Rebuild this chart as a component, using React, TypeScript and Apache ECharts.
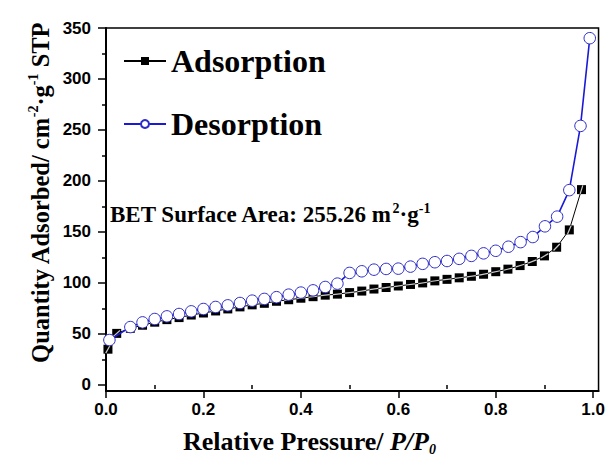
import React, { useEffect, useRef } from 'react';
import * as echarts from 'echarts';

// ---- data ----
const adsorptionX = [0.004, 0.022, 0.05, 0.075, 0.1, 0.125, 0.15, 0.175, 0.2, 0.225, 0.25, 0.275, 0.3, 0.325, 0.35, 0.375, 0.4, 0.425, 0.45, 0.475, 0.5, 0.525, 0.55, 0.575, 0.6, 0.625, 0.65, 0.675, 0.7, 0.725, 0.75, 0.775, 0.8, 0.825, 0.85, 0.875, 0.9, 0.925, 0.951, 0.976];
const adsorptionY = [35, 50.5, 55.5, 58.5, 61.5, 64, 66, 68.5, 70.5, 72.5, 74.5, 76.5, 78.5, 80, 82, 83.5, 85, 86.5, 88, 89, 90.5, 92, 94, 95.5, 97, 98.5, 100, 102, 103.5, 105, 106.5, 108.5, 111, 113.5, 117, 121, 126.5, 135, 152, 191.5];

const desorptionX = [0.993, 0.974, 0.951, 0.926, 0.901, 0.876, 0.851, 0.826, 0.8, 0.775, 0.75, 0.725, 0.7, 0.675, 0.65, 0.625, 0.6, 0.575, 0.55, 0.525, 0.5, 0.475, 0.45, 0.425, 0.4, 0.375, 0.35, 0.325, 0.3, 0.275, 0.25, 0.225, 0.2, 0.175, 0.15, 0.125, 0.1, 0.075, 0.05, 0.007];
const desorptionY = [340, 254, 191, 165, 155.5, 145, 140, 135.5, 131.5, 129, 126.5, 123.6, 121.5, 120.3, 118.7, 116, 114, 113.7, 113, 111.4, 109.8, 99.3, 96, 92.7, 90.5, 88.5, 86, 84.3, 82.6, 80.3, 78, 76.4, 74.4, 72.1, 69.5, 67.2, 64.6, 61.3, 56.7, 44];

const seriesNames = ['Adsorption', 'Desorption'];
const xTicks = [0, 0.2, 0.4, 0.6, 0.8, 1.0];
const xMinorTicks = [0.1, 0.3, 0.5, 0.7, 0.9];
const yTicks = [0, 50, 100, 150, 200, 250, 300, 350];
const yMinorTicks = [25, 75, 125, 175, 225, 275, 325];
const betLabel = 'BET Surface Area: 255.26 m';

const X_MIN = 0;
const X_MAX = 1.011;
const Y_MIN = -6;
const Y_MAX = 350;

const serif = 'Liberation Serif';
const sans = 'Liberation Sans';

export default function App() {
  const ref = useRef<HTMLDivElement>(null);

  useEffect(() => {
    if (!ref.current) return;
    const chart = echarts.init(ref.current, null, { renderer: 'svg' });

    const gridLeft = 106, gridRight = 9, gridTop = 28, gridBottom = 76;
    const kx = (608 - gridLeft - gridRight) / (X_MAX - X_MIN);
    const ky = (467 - gridTop - gridBottom) / (Y_MAX - Y_MIN);

    const adsData = adsorptionX.map((x, i) => [x, adsorptionY[i]]);
    const desData = desorptionX.map((x, i) => [x, desorptionY[i]]);
    const stripData = adsorptionX.map((x, i) => {
      const a = Math.max(0, i - 1);
      const b = Math.min(adsorptionX.length - 1, i + 1);
      const ang = Math.atan2((adsorptionY[b] - adsorptionY[a]) * ky, (adsorptionX[b] - adsorptionX[a]) * kx) * 180 / Math.PI;
      return { value: [x, adsorptionY[i]], symbolRotate: ang };
    });

    const tickLabel = { fontFamily: sans, fontWeight: 'bold', fontSize: 17, color: '#000' };

    const option: any = {
      animation: false,
      backgroundColor: '#ffffff',
      grid: {
        left: gridLeft, right: gridRight, top: gridTop, bottom: gridBottom,
        show: true, borderColor: '#000', borderWidth: 1.5, backgroundColor: 'transparent',
      },
      legend: {
        data: seriesNames,
        orient: 'vertical',
        left: 123,
        top: 45,
        padding: 0,
        itemWidth: 42,
        itemHeight: 10,
        itemGap: 31,
        selectedMode: false,
        textStyle: { fontFamily: serif, fontWeight: 'bold', fontSize: 32, color: '#000' },
      },
      xAxis: [
        {
          type: 'value', min: X_MIN, max: X_MAX, position: 'bottom',
          axisLine: { show: true, onZero: false, lineStyle: { color: '#000', width: 2 } },
          axisTick: { show: true, length: 7, customValues: xTicks, lineStyle: { color: '#000', width: 1.5 } },
          axisLabel: { ...tickLabel, customValues: xTicks, margin: 10, formatter: (v: number) => v.toFixed(1) },
          splitLine: { show: false },
        },
        {
          type: 'value', min: X_MIN, max: X_MAX, position: 'bottom',
          axisLine: { show: false },
          axisTick: { show: true, length: 4, customValues: xMinorTicks, lineStyle: { color: '#000', width: 1.5 } },
          axisLabel: { show: false },
          splitLine: { show: false },
        },
      ],
      yAxis: [
        {
          type: 'value', min: Y_MIN, max: Y_MAX, position: 'left',
          axisLine: { show: true, onZero: false, lineStyle: { color: '#000', width: 2 } },
          axisTick: { show: true, length: 8, customValues: yTicks, lineStyle: { color: '#000', width: 1.5 } },
          axisLabel: { ...tickLabel, customValues: yTicks, margin: 15 },
          splitLine: { show: false },
        },
        {
          type: 'value', min: Y_MIN, max: Y_MAX, position: 'left',
          axisLine: { show: false },
          axisTick: { show: true, length: 4, customValues: yMinorTicks, lineStyle: { color: '#000', width: 1.5 } },
          axisLabel: { show: false },
          splitLine: { show: false },
        },
      ],
      series: [
        {
          name: seriesNames[0],
          type: 'line',
          data: adsData,
          symbol: 'rect',
          symbolSize: 9,
          lineStyle: { color: '#000', width: 1 },
          itemStyle: { color: '#000' },
          z: 2,
        },
        {
          name: 'adsorption-strip',
          type: 'scatter',
          data: stripData,
          symbol: 'rect',
          symbolSize: [9, 1.2],
          itemStyle: { color: '#fff' },
          silent: true,
          z: 3,
        },
        {
          name: seriesNames[1],
          type: 'line',
          data: desData,
          symbol: 'circle',
          symbolSize: 11.5,
          lineStyle: { color: '#1a1ad6', width: 1.6 },
          itemStyle: { color: '#fff', borderColor: '#2c2cc8', borderWidth: 1 },
          z: 4,
        },
      ],
      graphic: [
        {
          type: 'text',
          x: 110,
          y: 214,
          z: 10,
          style: {
            text: `{a|${betLabel}}{s|2}{a|·g}{s|-1}`,
            align: 'left', verticalAlign: 'middle',
            textAlign: 'left', textVerticalAlign: 'middle',
            rich: {
              a: { fontFamily: serif, fontWeight: 'bold', fontSize: 23, lineHeight: 26, fill: '#000', color: '#000' },
              s: { fontFamily: serif, fontWeight: 'bold', fontSize: 14, lineHeight: 14, verticalAlign: 'top', fill: '#000', color: '#000' },
            },
          },
        },
        {
          type: 'text',
          x: 183,
          y: 441,
          z: 10,
          style: {
            text: '{a|Relative Pressure/ }{b|P/P}{c|0}',
            align: 'left', verticalAlign: 'middle',
            textAlign: 'left', textVerticalAlign: 'middle',
            rich: {
              a: { fontFamily: serif, fontWeight: 'bold', fontSize: 26, lineHeight: 30, fill: '#000', color: '#000' },
              b: { fontFamily: serif, fontWeight: 'bold', fontStyle: 'italic', fontSize: 26, lineHeight: 30, fill: '#000', color: '#000' },
              c: { fontFamily: serif, fontWeight: 'bold', fontStyle: 'italic', fontSize: 14, lineHeight: 14, verticalAlign: 'bottom', fill: '#000', color: '#000' },
            },
          },
        },
        {
          type: 'text',
          x: 40,
          y: 193,
          rotation: Math.PI / 2,
          z: 10,
          style: {
            text: '{a|Quantity Adsorbed/ cm}{s|-2}{a|·g}{s|-1}{a| STP}',
            align: 'center', verticalAlign: 'middle',
            textAlign: 'center', textVerticalAlign: 'middle',
            rich: {
              a: { fontFamily: serif, fontWeight: 'bold', fontSize: 24.5, lineHeight: 28, fill: '#000', color: '#000' },
              s: { fontFamily: serif, fontWeight: 'bold', fontSize: 14, lineHeight: 14, verticalAlign: 'top', fill: '#000', color: '#000' },
            },
          },
        },
      ],
    };

    chart.setOption(option);
    return () => chart.dispose();
  }, []);

  return (
    <div
      ref={ref}
      style={{ position: 'fixed', left: 0, top: 0, width: 608, height: 467, background: '#fff' }}
    />
  );
}
